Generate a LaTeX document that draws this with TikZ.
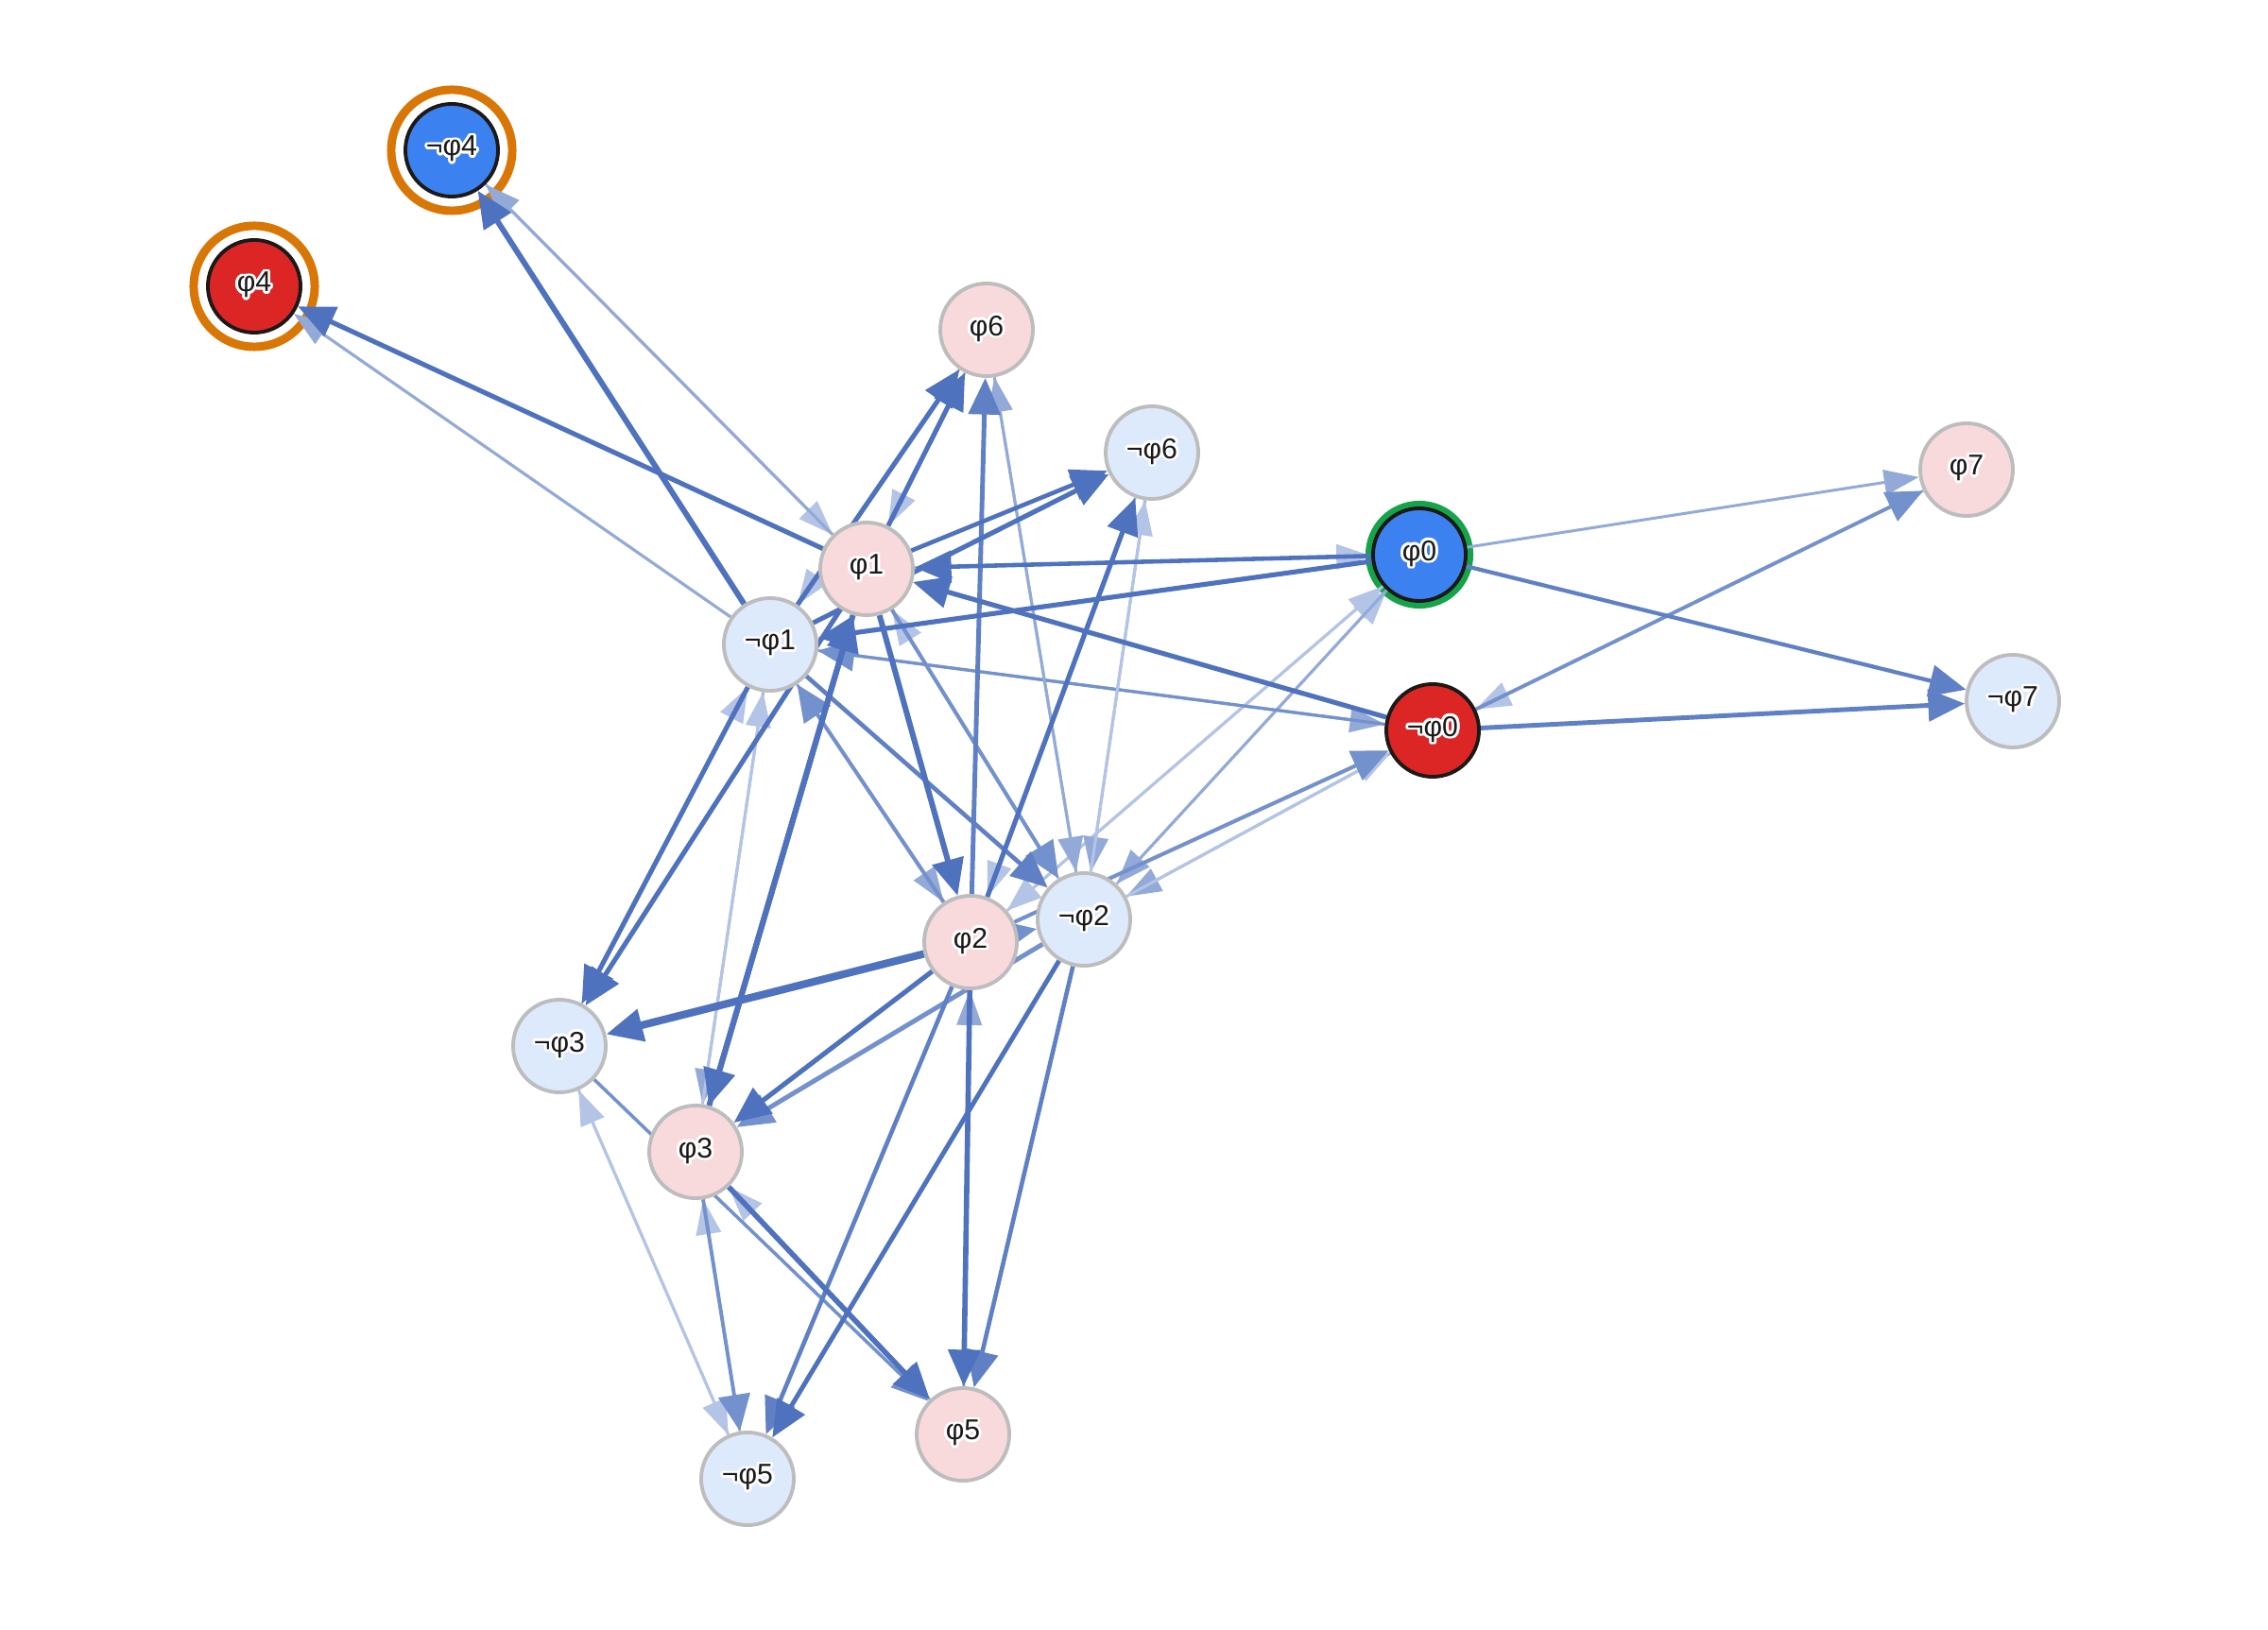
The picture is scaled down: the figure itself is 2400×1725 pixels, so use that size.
\documentclass[tikz,border=0pt]{standalone}
\usepackage{fontspec}
\setmainfont{Liberation Sans}
\usepackage{contour}
\contourlength{0.8pt}
\usetikzlibrary{arrows.meta}
\definecolor{cA}{HTML}{4E72BE}
\definecolor{cB}{HTML}{5F80C5}
\definecolor{cC}{HTML}{7391CC}
\definecolor{cDl}{HTML}{93AAD8}
\definecolor{cE}{HTML}{B3C4E6}
\definecolor{pinkfill}{HTML}{F8DADD}
\definecolor{bluefill}{HTML}{DDEAFC}
\definecolor{graystroke}{HTML}{BDBDBD}
\definecolor{blackstroke}{HTML}{1C1917}
\definecolor{strongblue}{HTML}{3B82F0}
\definecolor{strongred}{HTML}{DC2626}
\definecolor{ringorange}{HTML}{D97706}
\definecolor{ringgreen}{HTML}{16A34A}
\definecolor{txt}{HTML}{1A1A1A}
\newcommand{\nodetext}[1]{\contour{white}{#1}}
\pgfdeclarelayer{ringlayer}
\pgfdeclarelayer{edgelayer}
\pgfsetlayers{ringlayer,edgelayer,main}
\tikzset{
  basenode/.style={circle, minimum size=0.98cm, inner sep=0pt, line width=1.1pt,
    text=txt, font=\fontsize{8.6pt}{10pt}\selectfont},
  posnode/.style={basenode, fill=pinkfill, draw=graystroke},
  negnode/.style={basenode, fill=bluefill, draw=graystroke},
  bluenode/.style={basenode, fill=strongblue, draw=blackstroke},
  rednode/.style={basenode, fill=strongred, draw=blackstroke},
  ringO/.style={draw=ringorange, line width=2.55pt},
  ringG/.style={draw=ringgreen, line width=2pt},
  bigtip/.style={-{Triangle[length=11pt,width=9.5pt]}},
  smalltip/.style={-{Triangle[length=10.5pt,width=7.5pt]}},
  ek1/.style={draw=cA, bigtip},
  ek2/.style={draw=cB, bigtip},
  ek3/.style={draw=cC, bigtip},
  ek4/.style={draw=cDl, smalltip},
  ek5/.style={draw=cE, smalltip},
}
\begin{document}
\begin{tikzpicture}[x=0.01cm,y=-0.01cm]
\begin{pgfonlayer}{ringlayer}
\fill[white] (0,0) rectangle (2400,1725);
\end{pgfonlayer}
\useasboundingbox (0,0) rectangle (2400,1725);

% nodes
\node[bluenode] (A) at (478,159) {\nodetext{¬φ4}};
\node[rednode]  (B) at (269,303) {\nodetext{φ4}};
\node[posnode]  (C) at (1044,349) {\nodetext{φ6}};
\node[negnode]  (D) at (1219,479) {\nodetext{¬φ6}};
\node[posnode]  (E) at (2081,497) {\nodetext{φ7}};
\node[posnode]  (F) at (917,602) {\nodetext{φ1}};
\node[bluenode] (G) at (1502,587) {\nodetext{φ0}};
\node[negnode]  (H) at (815,682) {\nodetext{¬φ1}};
\node[rednode]  (I) at (1516,773) {\nodetext{¬φ0}};
\node[negnode]  (J) at (2130,742) {\nodetext{¬φ7}};
\node[negnode]  (K) at (1147,973) {\nodetext{¬φ2}};
\node[posnode]  (L) at (1027,997) {\nodetext{φ2}};
\node[negnode]  (M) at (592,1107) {\nodetext{¬φ3}};
\node[posnode]  (N) at (736,1219) {\nodetext{φ3}};
\node[posnode]  (O) at (1019,1518) {\nodetext{φ5}};
\node[negnode]  (P) at (791,1565) {\nodetext{¬φ5}};

\begin{pgfonlayer}{ringlayer}
\draw[ringO] (A.center) circle[radius=0.64cm];
\draw[ringO] (B.center) circle[radius=0.64cm];
\draw[ringG] (G.center) circle[radius=0.535cm];
\end{pgfonlayer}

\begin{pgfonlayer}{edgelayer}
% very light / light
\draw[ek5, line width=0.85pt] (A) -- (F);
\draw[ek5, line width=0.85pt] (C) -- (F);
\draw[ek5, line width=0.85pt] (C) -- (H);
\draw[ek5, line width=0.85pt] (F) -- (G);
\draw[ek5, line width=0.85pt] (E) -- (I);
\draw[ek4, line width=0.85pt] (H) -- (N);
\draw[ek5, line width=0.85pt] (N) -- (H);
\draw[ek5, line width=0.85pt] (M) -- (H);
\draw[ek5, line width=0.85pt] (P) -- (N);
\draw[ek5, line width=0.85pt] (O) -- (N);
\draw[ek4, line width=0.85pt] (O) -- (L);
\draw[ek5, line width=0.85pt] (K) -- (F);
\draw[ek4, line width=0.85pt] (H) -- (L);
\draw[ek5, line width=0.85pt] (G) -- (L);
\draw[ek5, line width=0.85pt] (D) -- (L);
\draw[ek4, line width=0.85pt] (I) -- (K);
\draw[ek5, line width=0.85pt] (K) -- (I);
\draw[ek5, line width=0.85pt] (L) -- (G);
\draw[ek5, line width=0.85pt] (K) -- (G);
\draw[ek4, line width=0.85pt] (G) -- (K);
\draw[ek4, line width=0.9pt] (H) -- (I);
\draw[ek3, line width=0.9pt] (I) -- (H);
\draw[ek5, line width=0.85pt] (P) -- (M);
\draw[ek5, line width=0.85pt] (M) -- (P);
\draw[ek4, line width=0.85pt] (C) -- (K);
\draw[ek4, line width=0.85pt] (K) -- (C);
\draw[ek4, line width=0.85pt] (D) -- (K);
\draw[ek5, line width=0.85pt] (K) -- (D);
\draw[ek4, line width=0.9pt] (H) -- (B);
\draw[ek4, line width=0.9pt] (F) -- (A);
\draw[ek4, line width=0.85pt] (G) -- (E);
% medium
\draw[ek3, line width=1.1pt] (I) -- (E);
\draw[ek3, line width=1.1pt] (N) -- (P);
\draw[ek3, line width=1.0pt] (M) -- (O);
\draw[ek3, line width=1.15pt] (L) -- (I);
\draw[ek3, line width=1.2pt] (L) -- (K);
\draw[ek3, line width=1.15pt] (L) -- (H);
\draw[ek3, line width=1.15pt] (F) -- (K);
\draw[ek3, line width=1.4pt] (K) -- (N);
\draw[ek2, line width=1.4pt] (L) -- (C);
\draw[ek2, line width=1.2pt] (G) -- (J);
\draw[ek2, line width=1.4pt] (I) -- (J);
\draw[ek2, line width=1.3pt] (K) -- (O);
\draw[ek2, line width=1.3pt] (L) -- (P);
\draw[ek2, line width=1.3pt] (H) -- (K);
% dark
\draw[ek1, line width=1.7pt] (H) -- (A);
\draw[ek1, line width=1.45pt] (F) -- (B);
\draw[ek1, line width=1.45pt] (F) -- (C);
\draw[ek1, line width=1.45pt] (H) -- (C);
\draw[ek1, line width=1.3pt] (F) -- (D);
\draw[ek1, line width=1.45pt] (H) -- (D);
\draw[ek1, line width=1.45pt] (L) -- (D);
\draw[ek1, line width=1.3pt] (G) -- (F);
\draw[ek1, line width=1.45pt] (G) -- (H);
\draw[ek1, line width=1.45pt] (I) -- (F);
\draw[ek1, line width=1.7pt] (F) -- (L);
\draw[ek1, line width=2.3pt] (L) -- (M);
\draw[ek1, line width=1.45pt] (F) -- (M);
\draw[ek1, line width=1.45pt] (H) -- (M);
\draw[ek1, line width=1.7pt] (F) -- (N);
\draw[ek1, line width=1.7pt] (N) -- (F);
\draw[ek1, line width=1.45pt] (L) -- (N);
\draw[ek1, line width=1.6pt] (N) -- (O);
\draw[ek1, line width=1.6pt] (L) -- (O);
\draw[ek1, line width=1.4pt] (K) -- (P);
\end{pgfonlayer}
\end{tikzpicture}
\end{document}
